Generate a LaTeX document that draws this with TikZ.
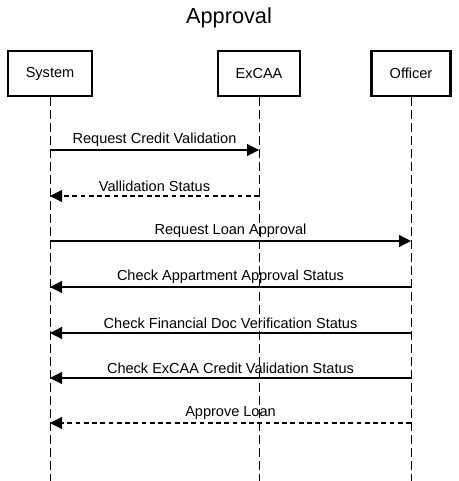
\documentclass[tikz,border=0pt]{standalone}
\usepackage{fontspec}
\setmainfont{Liberation Sans}
\usetikzlibrary{arrows.meta,positioning}

\begin{document}
\begin{tikzpicture}[x=0.75pt,y=-0.75pt,
	actor/.style={draw, line width=1.6pt, minimum height=33.75pt, inner sep=0pt, font=\fontsize{10.9}{13}\selectfont},
	life/.style={line width=0.75pt, dash pattern=on 6.75pt off 3pt},
	msg/.style={-{Triangle[length=9pt,width=9pt]}, line width=0.9pt},
	reply/.style={msg, dash pattern=on 3.6pt off 2.6pt},
	lbl/.style={midway, above, inner sep=2.5pt, font=\fontsize{10.9}{13}\selectfont}]
			\useasboundingbox (0,0) rectangle (458,481);
			\def\yend{481};
			\node[font=\fontsize{16.3}{19}\selectfont] (title) at (229,18) {Approval};
			% participants
			\node[actor, minimum width=63pt] (sys) at (50,73.5) {System};
			\node[actor, minimum width=61.5pt] (excaa) at (259,73.5) {ExCAA};
			\node[actor, minimum width=59.25pt] (off) at (411,73.5) {Officer};
			\coordinate (sysend) at (50,\yend);
			\coordinate (excaaend) at (259,\yend);
			\coordinate (offend) at (411,\yend);
			\draw[life] (sys.south) -- (sysend);
			\draw[life] (excaa.south) -- (excaaend);
			\draw[life] (off.south) -- (offend);
			% message rows
			\foreach \n/\y in {1/150,2/196,3/241,4/287,5/333,6/378,7/423}{
				\coordinate (s\n) at (50,\y);
				\coordinate (e\n) at (259,\y);
				\coordinate (o\n) at (411,\y);
			}
			\draw[msg] (s1) -- node[lbl]{Request Credit Validation} (e1);
			\draw[reply] (e2) -- node[lbl]{Vallidation Status} (s2);
			\draw[msg] (s3) -- node[lbl]{Request Loan Approval} (o3);
			\draw[msg] (o4) -- node[lbl]{Check Appartment Approval Status} (s4);
			\draw[msg] (o5) -- node[lbl]{Check Financial Doc Verification Status} (s5);
			\draw[msg] (o6) -- node[lbl]{Check ExCAA Credit Validation Status} (s6);
			\draw[reply] (o7) -- node[lbl]{Approve Loan} (s7);
\end{tikzpicture}
\end{document}
